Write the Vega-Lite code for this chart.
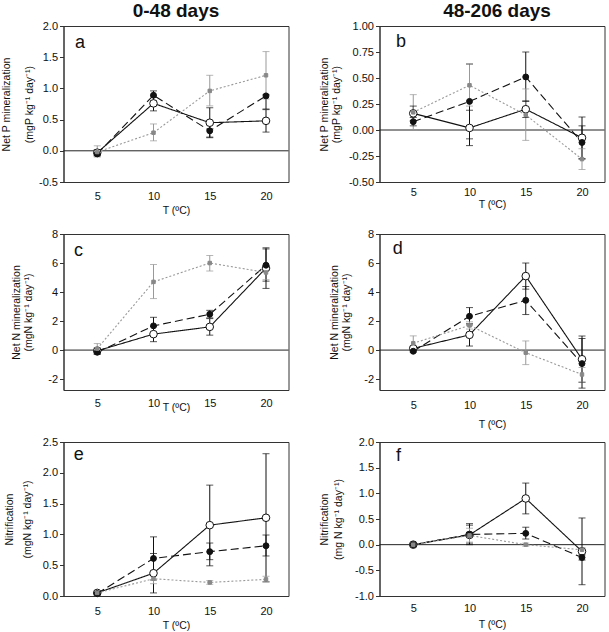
{
  "$schema": "https://vega.github.io/schema/vega-lite/v6.json",
  "padding": {"left": 0.5, "top": 1, "right": 0, "bottom": 0},
  "datasets": {
    "pts": [
      {"p":"a","s":"S1","T":5,"v":-0.03,"lo":-0.08,"hi":0.02},
      {"p":"a","s":"S1","T":10,"v":0.76,"lo":0.64,"hi":0.88},
      {"p":"a","s":"S1","T":15,"v":0.45,"lo":0.21,"hi":0.69},
      {"p":"a","s":"S1","T":20,"v":0.48,"lo":0.30,"hi":0.66},
      {"p":"a","s":"S2","T":5,"v":-0.05,"lo":-0.08,"hi":-0.02},
      {"p":"a","s":"S2","T":10,"v":0.89,"lo":0.80,"hi":0.96},
      {"p":"a","s":"S2","T":15,"v":0.32,"lo":0.22,"hi":0.42},
      {"p":"a","s":"S2","T":20,"v":0.88,"lo":0.67,"hi":0.9},
      {"p":"a","s":"S3","T":5,"v":-0.02,"lo":-0.1,"hi":0.08},
      {"p":"a","s":"S3","T":10,"v":0.29,"lo":0.16,"hi":0.43},
      {"p":"a","s":"S3","T":15,"v":0.96,"lo":0.72,"hi":1.21},
      {"p":"a","s":"S3","T":20,"v":1.21,"lo":0.83,"hi":1.59},

      {"p":"b","s":"S1","T":5,"v":0.16,"lo":0.09,"hi":0.23},
      {"p":"b","s":"S1","T":10,"v":0.02,"lo":-0.15,"hi":0.19},
      {"p":"b","s":"S1","T":15,"v":0.2,"lo":0.12,"hi":0.28},
      {"p":"b","s":"S1","T":20,"v":-0.075,"lo":-0.275,"hi":0.125},
      {"p":"b","s":"S2","T":5,"v":0.08,"lo":0.04,"hi":0.12},
      {"p":"b","s":"S2","T":10,"v":0.275,"lo":-0.085,"hi":0.635},
      {"p":"b","s":"S2","T":15,"v":0.51,"lo":0.275,"hi":0.75},
      {"p":"b","s":"S2","T":20,"v":-0.12,"lo":-0.28,"hi":0.04},
      {"p":"b","s":"S3","T":5,"v":0.17,"lo":0.0,"hi":0.34},
      {"p":"b","s":"S3","T":10,"v":0.43,"lo":0.23,"hi":0.63},
      {"p":"b","s":"S3","T":15,"v":0.145,"lo":-0.1,"hi":0.395},
      {"p":"b","s":"S3","T":20,"v":-0.28,"lo":-0.38,"hi":-0.18},

      {"p":"c","s":"S1","T":5,"v":-0.05,"lo":-0.25,"hi":0.15},
      {"p":"c","s":"S1","T":10,"v":1.1,"lo":0.58,"hi":1.62},
      {"p":"c","s":"S1","T":15,"v":1.6,"lo":1.03,"hi":2.17},
      {"p":"c","s":"S1","T":20,"v":5.65,"lo":4.25,"hi":7.05},
      {"p":"c","s":"S2","T":5,"v":-0.15,"lo":-0.3,"hi":0.0},
      {"p":"c","s":"S2","T":10,"v":1.67,"lo":1.08,"hi":2.26},
      {"p":"c","s":"S2","T":15,"v":2.47,"lo":2.22,"hi":2.74},
      {"p":"c","s":"S2","T":20,"v":5.85,"lo":4.75,"hi":6.97},
      {"p":"c","s":"S3","T":5,"v":0.1,"lo":-0.25,"hi":0.45},
      {"p":"c","s":"S3","T":10,"v":4.7,"lo":3.55,"hi":5.9},
      {"p":"c","s":"S3","T":15,"v":6.0,"lo":5.45,"hi":6.52},
      {"p":"c","s":"S3","T":20,"v":5.35,"lo":4.85,"hi":5.85},

      {"p":"d","s":"S1","T":5,"v":0.12,"lo":0.0,"hi":0.25},
      {"p":"d","s":"S1","T":10,"v":1.05,"lo":0.28,"hi":1.82},
      {"p":"d","s":"S1","T":15,"v":5.1,"lo":4.2,"hi":6.0},
      {"p":"d","s":"S1","T":20,"v":-0.63,"lo":-2.22,"hi":0.97},
      {"p":"d","s":"S2","T":5,"v":-0.08,"lo":-0.15,"hi":0.0},
      {"p":"d","s":"S2","T":10,"v":2.33,"lo":1.73,"hi":2.93},
      {"p":"d","s":"S2","T":15,"v":3.43,"lo":2.45,"hi":4.38},
      {"p":"d","s":"S2","T":20,"v":-0.93,"lo":-2.62,"hi":0.8},
      {"p":"d","s":"S3","T":5,"v":0.47,"lo":-0.05,"hi":0.98},
      {"p":"d","s":"S3","T":10,"v":1.7,"lo":1.45,"hi":1.95},
      {"p":"d","s":"S3","T":15,"v":-0.18,"lo":-1.0,"hi":0.63},
      {"p":"d","s":"S3","T":20,"v":-1.68,"lo":-2.2,"hi":-1.2},

      {"p":"e","s":"S1","T":5,"v":0.05,"lo":0.03,"hi":0.07},
      {"p":"e","s":"S1","T":10,"v":0.37,"lo":0.05,"hi":0.69},
      {"p":"e","s":"S1","T":15,"v":1.15,"lo":0.49,"hi":1.8},
      {"p":"e","s":"S1","T":20,"v":1.27,"lo":0.23,"hi":2.31},
      {"p":"e","s":"S2","T":5,"v":0.04,"lo":0.02,"hi":0.06},
      {"p":"e","s":"S2","T":10,"v":0.61,"lo":0.26,"hi":0.96},
      {"p":"e","s":"S2","T":15,"v":0.72,"lo":0.59,"hi":0.86},
      {"p":"e","s":"S2","T":20,"v":0.815,"lo":0.65,"hi":0.99},
      {"p":"e","s":"S3","T":5,"v":0.05,"lo":0.03,"hi":0.07},
      {"p":"e","s":"S3","T":10,"v":0.28,"lo":0.2,"hi":0.35},
      {"p":"e","s":"S3","T":15,"v":0.22,"lo":0.19,"hi":0.25},
      {"p":"e","s":"S3","T":20,"v":0.27,"lo":0.23,"hi":0.32},

      {"p":"f","s":"S1","T":5,"v":0.0,"lo":-0.02,"hi":0.02},
      {"p":"f","s":"S1","T":10,"v":0.19,"lo":0.0,"hi":0.38},
      {"p":"f","s":"S1","T":15,"v":0.9,"lo":0.6,"hi":1.2},
      {"p":"f","s":"S1","T":20,"v":-0.13,"lo":-0.78,"hi":0.52},
      {"p":"f","s":"S2","T":5,"v":0.0,"lo":-0.02,"hi":0.02},
      {"p":"f","s":"S2","T":10,"v":0.2,"lo":0.03,"hi":0.41},
      {"p":"f","s":"S2","T":15,"v":0.22,"lo":0.11,"hi":0.34},
      {"p":"f","s":"S2","T":20,"v":-0.25,"lo":-0.3,"hi":-0.2},
      {"p":"f","s":"S3","T":5,"v":0.0,"lo":-0.02,"hi":0.02},
      {"p":"f","s":"S3","T":10,"v":0.18,"lo":0.05,"hi":0.32},
      {"p":"f","s":"S3","T":15,"v":0.0,"lo":-0.03,"hi":0.03},
      {"p":"f","s":"S3","T":20,"v":-0.1,"lo":-0.14,"hi":-0.06}
    ]
  },
  "data": {"name": "pts"},
  "columns": 2,
  "spacing": {"row": 52, "column": 91},
  "bounds": "flush",
  "concat": [
    {
      "width": 225, "height": 156,
      "title": {"text": "0-48 days", "anchor": "middle", "frame": "group"},
      "transform": [{"filter": "datum.p === 'a'"}],
      "encoding": {
        "x": {"field": "T", "type": "quantitative", "scale": {"domain": [2, 22], "nice": false, "zero": false},
              "axis": {"values": [5, 10, 15, 20], "format": "d", "labelPadding": 8.25, "title": "T (ºC)", "titleY": 28, "titleBaseline": "middle"}},
        "y": {"field": "v", "type": "quantitative", "scale": {"domain": [-0.5, 2], "nice": false, "zero": false},
              "axis": {"values": [-0.5, 0, 0.5, 1, 1.5, 2], "format": ".1f", "title": ["Net P mineralization", "(mgP kg⁻¹ day⁻¹)"], "titleX": -57, "titleLineHeight": 22.5, "titleBaseline": "middle"}}
      },
      "layer": [
        {"transform": [{"filter": "datum.T === 5 && datum.s === 'S1'"}], "mark": {"type": "rule", "color": "#222222", "strokeWidth": 1}, "encoding": {"x": {"datum": 2}, "x2": {"datum": 22}, "y": {"datum": 0}}},
        {"mark": {"type": "rule", "strokeWidth": 1}, "encoding": {"y": {"field": "lo", "type": "quantitative"}, "y2": {"field": "hi"}, "color": {"field": "s", "type": "nominal", "scale": {"domain": ["S1", "S2", "S3"], "range": ["#111111", "#111111", "#999999"]}, "legend": null}}},
        {"mark": {"type": "tick", "orient": "horizontal", "size": 7, "thickness": 1}, "encoding": {"y": {"field": "lo", "type": "quantitative"}, "color": {"field": "s", "type": "nominal", "legend": null}}},
        {"mark": {"type": "tick", "orient": "horizontal", "size": 7, "thickness": 1}, "encoding": {"y": {"field": "hi", "type": "quantitative"}, "color": {"field": "s", "type": "nominal", "legend": null}}},
        {"mark": {"type": "line", "strokeWidth": 1.1}, "encoding": {"color": {"field": "s", "type": "nominal", "legend": null}, "strokeDash": {"field": "s", "type": "nominal", "scale": {"domain": ["S1", "S2", "S3"], "range": [[1, 0], [8, 4], [2, 2]]}, "legend": null}}},
        {"mark": {"type": "point", "filled": true, "opacity": 1, "strokeWidth": 1}, "encoding": {
          "shape": {"field": "s", "type": "nominal", "scale": {"domain": ["S1", "S2", "S3"], "range": ["circle", "circle", "square"]}, "legend": null},
          "size": {"field": "s", "type": "ordinal", "scale": {"domain": ["S1", "S2", "S3"], "range": [58, 12, 16]}, "legend": null},
          "fill": {"field": "s", "type": "nominal", "scale": {"domain": ["S1", "S2", "S3"], "range": ["#ffffff", "#111111", "#888888"]}, "legend": null},
          "stroke": {"field": "s", "type": "nominal", "scale": {"domain": ["S1", "S2", "S3"], "range": ["#111111", "#111111", "#888888"]}, "legend": null}}},
        {"transform": [{"filter": "datum.T === 5 && datum.s === 'S1'"}], "mark": {"type": "text", "align": "left", "baseline": "alphabetic", "fontSize": 18, "color": "#111111"}, "encoding": {"x": {"datum": 3.02}, "y": {"datum": 1.65}, "text": {"value": "a"}}}
      ]
    },
    {
      "width": 225, "height": 156,
      "title": {"text": "48-206 days", "anchor": "middle", "frame": "group", "dx": 5},
      "transform": [{"filter": "datum.p === 'b'"}],
      "encoding": {
        "x": {"field": "T", "type": "quantitative", "scale": {"domain": [2, 22], "nice": false, "zero": false},
              "axis": {"values": [5, 10, 15, 20], "format": "d", "labelPadding": 4.5, "title": "T (ºC)", "titleY": 22, "titleBaseline": "middle"}},
        "y": {"field": "v", "type": "quantitative", "scale": {"domain": [-0.5, 1], "nice": false, "zero": false},
              "axis": {"values": [-0.5, -0.25, 0, 0.25, 0.5, 0.75, 1], "format": ".2f", "title": ["Net P mineralization", "(mgP kg⁻¹ day⁻¹)"], "titleX": -55.5, "titleLineHeight": 12.5, "titleBaseline": "middle"}}
      },
      "layer": [
        {"transform": [{"filter": "datum.T === 5 && datum.s === 'S1'"}], "mark": {"type": "rule", "color": "#222222", "strokeWidth": 1}, "encoding": {"x": {"datum": 2}, "x2": {"datum": 22}, "y": {"datum": 0}}},
        {"mark": {"type": "rule", "strokeWidth": 1}, "encoding": {"y": {"field": "lo", "type": "quantitative"}, "y2": {"field": "hi"}, "color": {"field": "s", "type": "nominal", "scale": {"domain": ["S1", "S2", "S3"], "range": ["#111111", "#111111", "#999999"]}, "legend": null}}},
        {"mark": {"type": "tick", "orient": "horizontal", "size": 7, "thickness": 1}, "encoding": {"y": {"field": "lo", "type": "quantitative"}, "color": {"field": "s", "type": "nominal", "legend": null}}},
        {"mark": {"type": "tick", "orient": "horizontal", "size": 7, "thickness": 1}, "encoding": {"y": {"field": "hi", "type": "quantitative"}, "color": {"field": "s", "type": "nominal", "legend": null}}},
        {"mark": {"type": "line", "strokeWidth": 1.1}, "encoding": {"color": {"field": "s", "type": "nominal", "legend": null}, "strokeDash": {"field": "s", "type": "nominal", "scale": {"domain": ["S1", "S2", "S3"], "range": [[1, 0], [8, 4], [2, 2]]}, "legend": null}}},
        {"mark": {"type": "point", "filled": true, "opacity": 1, "strokeWidth": 1}, "encoding": {
          "shape": {"field": "s", "type": "nominal", "scale": {"domain": ["S1", "S2", "S3"], "range": ["circle", "circle", "square"]}, "legend": null},
          "size": {"field": "s", "type": "ordinal", "scale": {"domain": ["S1", "S2", "S3"], "range": [58, 12, 16]}, "legend": null},
          "fill": {"field": "s", "type": "nominal", "scale": {"domain": ["S1", "S2", "S3"], "range": ["#ffffff", "#111111", "#888888"]}, "legend": null},
          "stroke": {"field": "s", "type": "nominal", "scale": {"domain": ["S1", "S2", "S3"], "range": ["#111111", "#111111", "#888888"]}, "legend": null}}},
        {"transform": [{"filter": "datum.T === 5 && datum.s === 'S1'"}], "mark": {"type": "text", "align": "left", "baseline": "alphabetic", "fontSize": 18, "color": "#111111"}, "encoding": {"x": {"datum": 3.47}, "y": {"datum": 0.80}, "text": {"value": "b"}}}
      ]
    },
    {
      "width": 225, "height": 156,
      "transform": [{"filter": "datum.p === 'c'"}],
      "encoding": {
        "x": {"field": "T", "type": "quantitative", "scale": {"domain": [2, 22], "nice": false, "zero": false},
              "axis": {"values": [5, 10, 15, 20], "format": "d", "labelPadding": 7, "title": "T (ºC)", "titleY": 17, "titleBaseline": "middle"}},
        "y": {"field": "v", "type": "quantitative", "scale": {"domain": [-2.75, 8], "nice": false, "zero": false},
              "axis": {"values": [-2, 0, 2, 4, 6, 8], "format": "d", "title": ["Net N mineralization", "(mgN kg⁻¹ day⁻¹)"], "titleX": -47, "titleLineHeight": 12, "titleBaseline": "middle"}}
      },
      "layer": [
        {"transform": [{"filter": "datum.T === 5 && datum.s === 'S1'"}], "mark": {"type": "rule", "color": "#222222", "strokeWidth": 1}, "encoding": {"x": {"datum": 2}, "x2": {"datum": 22}, "y": {"datum": 0}}},
        {"mark": {"type": "rule", "strokeWidth": 1}, "encoding": {"y": {"field": "lo", "type": "quantitative"}, "y2": {"field": "hi"}, "color": {"field": "s", "type": "nominal", "scale": {"domain": ["S1", "S2", "S3"], "range": ["#111111", "#111111", "#999999"]}, "legend": null}}},
        {"mark": {"type": "tick", "orient": "horizontal", "size": 7, "thickness": 1}, "encoding": {"y": {"field": "lo", "type": "quantitative"}, "color": {"field": "s", "type": "nominal", "legend": null}}},
        {"mark": {"type": "tick", "orient": "horizontal", "size": 7, "thickness": 1}, "encoding": {"y": {"field": "hi", "type": "quantitative"}, "color": {"field": "s", "type": "nominal", "legend": null}}},
        {"mark": {"type": "line", "strokeWidth": 1.1}, "encoding": {"color": {"field": "s", "type": "nominal", "legend": null}, "strokeDash": {"field": "s", "type": "nominal", "scale": {"domain": ["S1", "S2", "S3"], "range": [[1, 0], [8, 4], [2, 2]]}, "legend": null}}},
        {"mark": {"type": "point", "filled": true, "opacity": 1, "strokeWidth": 1}, "encoding": {
          "shape": {"field": "s", "type": "nominal", "scale": {"domain": ["S1", "S2", "S3"], "range": ["circle", "circle", "square"]}, "legend": null},
          "size": {"field": "s", "type": "ordinal", "scale": {"domain": ["S1", "S2", "S3"], "range": [58, 12, 16]}, "legend": null},
          "fill": {"field": "s", "type": "nominal", "scale": {"domain": ["S1", "S2", "S3"], "range": ["#ffffff", "#111111", "#888888"]}, "legend": null},
          "stroke": {"field": "s", "type": "nominal", "scale": {"domain": ["S1", "S2", "S3"], "range": ["#111111", "#111111", "#888888"]}, "legend": null}}},
        {"transform": [{"filter": "datum.T === 5 && datum.s === 'S1'"}], "mark": {"type": "text", "align": "left", "baseline": "alphabetic", "fontSize": 18, "color": "#111111"}, "encoding": {"x": {"datum": 2.93}, "y": {"datum": 6.5}, "text": {"value": "c"}}}
      ]
    },
    {
      "width": 225, "height": 156,
      "transform": [{"filter": "datum.p === 'd'"}],
      "encoding": {
        "x": {"field": "T", "type": "quantitative", "scale": {"domain": [2, 22], "nice": false, "zero": false},
              "axis": {"values": [5, 10, 15, 20], "format": "d", "labelPadding": 9.25, "title": "T (ºC)", "titleY": 34, "titleBaseline": "middle"}},
        "y": {"field": "v", "type": "quantitative", "scale": {"domain": [-2.75, 8], "nice": false, "zero": false},
              "axis": {"values": [-2, 0, 2, 4, 6, 8], "format": "d", "title": ["Net N mineralization", "(mgN kg⁻¹ day⁻¹)"], "titleX": -45.5, "titleLineHeight": 12, "titleBaseline": "middle"}}
      },
      "layer": [
        {"transform": [{"filter": "datum.T === 5 && datum.s === 'S1'"}], "mark": {"type": "rule", "color": "#222222", "strokeWidth": 1}, "encoding": {"x": {"datum": 2}, "x2": {"datum": 22}, "y": {"datum": 0}}},
        {"mark": {"type": "rule", "strokeWidth": 1}, "encoding": {"y": {"field": "lo", "type": "quantitative"}, "y2": {"field": "hi"}, "color": {"field": "s", "type": "nominal", "scale": {"domain": ["S1", "S2", "S3"], "range": ["#111111", "#111111", "#999999"]}, "legend": null}}},
        {"mark": {"type": "tick", "orient": "horizontal", "size": 7, "thickness": 1}, "encoding": {"y": {"field": "lo", "type": "quantitative"}, "color": {"field": "s", "type": "nominal", "legend": null}}},
        {"mark": {"type": "tick", "orient": "horizontal", "size": 7, "thickness": 1}, "encoding": {"y": {"field": "hi", "type": "quantitative"}, "color": {"field": "s", "type": "nominal", "legend": null}}},
        {"mark": {"type": "line", "strokeWidth": 1.1}, "encoding": {"color": {"field": "s", "type": "nominal", "legend": null}, "strokeDash": {"field": "s", "type": "nominal", "scale": {"domain": ["S1", "S2", "S3"], "range": [[1, 0], [8, 4], [2, 2]]}, "legend": null}}},
        {"mark": {"type": "point", "filled": true, "opacity": 1, "strokeWidth": 1}, "encoding": {
          "shape": {"field": "s", "type": "nominal", "scale": {"domain": ["S1", "S2", "S3"], "range": ["circle", "circle", "square"]}, "legend": null},
          "size": {"field": "s", "type": "ordinal", "scale": {"domain": ["S1", "S2", "S3"], "range": [58, 12, 16]}, "legend": null},
          "fill": {"field": "s", "type": "nominal", "scale": {"domain": ["S1", "S2", "S3"], "range": ["#ffffff", "#111111", "#888888"]}, "legend": null},
          "stroke": {"field": "s", "type": "nominal", "scale": {"domain": ["S1", "S2", "S3"], "range": ["#111111", "#111111", "#888888"]}, "legend": null}}},
        {"transform": [{"filter": "datum.T === 5 && datum.s === 'S1'"}], "mark": {"type": "text", "align": "left", "baseline": "alphabetic", "fontSize": 18, "color": "#111111"}, "encoding": {"x": {"datum": 3.17}, "y": {"datum": 6.64}, "text": {"value": "d"}}}
      ]
    },
    {
      "width": 225, "height": 154,
      "transform": [{"filter": "datum.p === 'e'"}],
      "encoding": {
        "x": {"field": "T", "type": "quantitative", "scale": {"domain": [2, 22], "nice": false, "zero": false},
              "axis": {"values": [5, 10, 15, 20], "format": "d", "labelPadding": 9.25, "title": "T (ºC)", "titleY": 29, "titleBaseline": "middle"}},
        "y": {"field": "v", "type": "quantitative", "scale": {"domain": [0, 2.5], "nice": false, "zero": false},
              "axis": {"values": [0, 0.5, 1, 1.5, 2, 2.5], "format": ".1f", "title": ["Nitrification", "(mgN kg⁻¹ day⁻¹)"], "titleX": -54, "titleLineHeight": 18, "titleBaseline": "middle"}}
      },
      "layer": [
        {"mark": {"type": "rule", "strokeWidth": 1}, "encoding": {"y": {"field": "lo", "type": "quantitative"}, "y2": {"field": "hi"}, "color": {"field": "s", "type": "nominal", "scale": {"domain": ["S1", "S2", "S3"], "range": ["#111111", "#111111", "#999999"]}, "legend": null}}},
        {"mark": {"type": "tick", "orient": "horizontal", "size": 7, "thickness": 1}, "encoding": {"y": {"field": "lo", "type": "quantitative"}, "color": {"field": "s", "type": "nominal", "legend": null}}},
        {"mark": {"type": "tick", "orient": "horizontal", "size": 7, "thickness": 1}, "encoding": {"y": {"field": "hi", "type": "quantitative"}, "color": {"field": "s", "type": "nominal", "legend": null}}},
        {"mark": {"type": "line", "strokeWidth": 1.1}, "encoding": {"color": {"field": "s", "type": "nominal", "legend": null}, "strokeDash": {"field": "s", "type": "nominal", "scale": {"domain": ["S1", "S2", "S3"], "range": [[1, 0], [8, 4], [2, 2]]}, "legend": null}}},
        {"mark": {"type": "point", "filled": true, "opacity": 1, "strokeWidth": 1}, "encoding": {
          "shape": {"field": "s", "type": "nominal", "scale": {"domain": ["S1", "S2", "S3"], "range": ["circle", "circle", "square"]}, "legend": null},
          "size": {"field": "s", "type": "ordinal", "scale": {"domain": ["S1", "S2", "S3"], "range": [58, 12, 16]}, "legend": null},
          "fill": {"field": "s", "type": "nominal", "scale": {"domain": ["S1", "S2", "S3"], "range": ["#ffffff", "#111111", "#888888"]}, "legend": null},
          "stroke": {"field": "s", "type": "nominal", "scale": {"domain": ["S1", "S2", "S3"], "range": ["#111111", "#111111", "#888888"]}, "legend": null}}},
        {"transform": [{"filter": "datum.T === 5 && datum.s === 'S1'"}], "mark": {"type": "text", "align": "left", "baseline": "alphabetic", "fontSize": 18, "color": "#111111"}, "encoding": {"x": {"datum": 2.9}, "y": {"datum": 2.2}, "text": {"value": "e"}}}
      ]
    },
    {
      "width": 225, "height": 154,
      "transform": [{"filter": "datum.p === 'f'"}],
      "encoding": {
        "x": {"field": "T", "type": "quantitative", "scale": {"domain": [2, 22], "nice": false, "zero": false},
              "axis": {"values": [5, 10, 15, 20], "format": "d", "labelPadding": 6.25, "title": "T (ºC)", "titleY": 28, "titleBaseline": "middle"}},
        "y": {"field": "v", "type": "quantitative", "scale": {"domain": [-1, 2], "nice": false, "zero": false},
              "axis": {"values": [-1, -0.5, 0, 0.5, 1, 1.5, 2], "format": ".1f", "title": ["Nitrification", "(mg N kg⁻¹ day⁻¹)"], "titleX": -55.5, "titleLineHeight": 14, "titleBaseline": "middle"}}
      },
      "layer": [
        {"transform": [{"filter": "datum.T === 5 && datum.s === 'S1'"}], "mark": {"type": "rule", "color": "#222222", "strokeWidth": 1}, "encoding": {"x": {"datum": 2}, "x2": {"datum": 22}, "y": {"datum": 0}}},
        {"mark": {"type": "rule", "strokeWidth": 1}, "encoding": {"y": {"field": "lo", "type": "quantitative"}, "y2": {"field": "hi"}, "color": {"field": "s", "type": "nominal", "scale": {"domain": ["S1", "S2", "S3"], "range": ["#111111", "#111111", "#999999"]}, "legend": null}}},
        {"mark": {"type": "tick", "orient": "horizontal", "size": 7, "thickness": 1}, "encoding": {"y": {"field": "lo", "type": "quantitative"}, "color": {"field": "s", "type": "nominal", "legend": null}}},
        {"mark": {"type": "tick", "orient": "horizontal", "size": 7, "thickness": 1}, "encoding": {"y": {"field": "hi", "type": "quantitative"}, "color": {"field": "s", "type": "nominal", "legend": null}}},
        {"mark": {"type": "line", "strokeWidth": 1.1}, "encoding": {"color": {"field": "s", "type": "nominal", "legend": null}, "strokeDash": {"field": "s", "type": "nominal", "scale": {"domain": ["S1", "S2", "S3"], "range": [[1, 0], [8, 4], [2, 2]]}, "legend": null}}},
        {"mark": {"type": "point", "filled": true, "opacity": 1, "strokeWidth": 1}, "encoding": {
          "shape": {"field": "s", "type": "nominal", "scale": {"domain": ["S1", "S2", "S3"], "range": ["circle", "circle", "square"]}, "legend": null},
          "size": {"field": "s", "type": "ordinal", "scale": {"domain": ["S1", "S2", "S3"], "range": [58, 12, 16]}, "legend": null},
          "fill": {"field": "s", "type": "nominal", "scale": {"domain": ["S1", "S2", "S3"], "range": ["#ffffff", "#111111", "#888888"]}, "legend": null},
          "stroke": {"field": "s", "type": "nominal", "scale": {"domain": ["S1", "S2", "S3"], "range": ["#111111", "#111111", "#888888"]}, "legend": null}}},
        {"transform": [{"filter": "datum.T === 5 && datum.s === 'S1'"}], "mark": {"type": "text", "align": "left", "baseline": "alphabetic", "fontSize": 18, "color": "#111111"}, "encoding": {"x": {"datum": 3.47}, "y": {"datum": 1.63}, "text": {"value": "f"}}}
      ]
    }
  ],
  "config": {
    "font": "Liberation Sans",
    "locale": {"number": {"decimal": ".", "thousands": ",", "grouping": [3], "currency": ["$", ""], "minus": "-"}},
    "view": {"stroke": "#333333", "strokeWidth": 1},
    "title": {"font": "Liberation Sans", "fontSize": 19, "fontWeight": "bold", "color": "#111111", "offset": -1},
    "axis": {"labelFont": "Liberation Sans", "titleFont": "Liberation Sans", "labelFontSize": 11, "titleFontSize": 10.5, "titleFontWeight": "normal", "labelColor": "#111111", "titleColor": "#111111", "domainColor": "#333333", "tickColor": "#333333", "grid": false},
    "axisX": {"ticks": false},
    "axisY": {"tickSize": 4, "labelPadding": 2}
  }
}
